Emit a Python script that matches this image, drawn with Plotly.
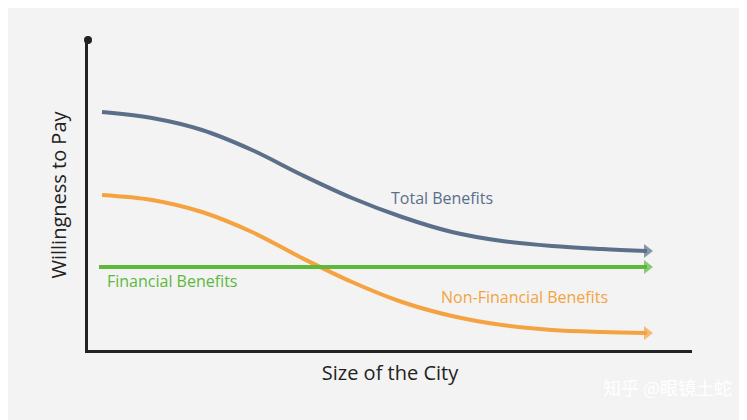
import plotly.graph_objects as go

def px2x(p): return (p-86)/6.04
def py2y(p): return (350-p)/3.1

tot_px = [100,150,200,250,300,350,400,450,500,550,600,645]
tot_py = [112,118,130,150,175,198,217,232,241,246,249,251]
non_py = [195,200,212,232,258,282,302,316,325,330,332,333]
fin_px = [97,645]
fin_py = [267,267]

tx=[px2x(p) for p in tot_px]
fig=go.Figure()
def curve(xs, ys, color):
    n=len(xs)
    fig.add_trace(go.Scatter(x=xs,y=ys,mode="lines+markers",line=dict(color=color,width=4,shape="spline"),
        marker=dict(symbol=["circle"]*(n-1)+["triangle-right"],size=[0]*(n-1)+[12],color=color,line=dict(width=0)),
        cliponaxis=False,showlegend=False,hoverinfo="skip"))
curve(tx,[py2y(p) for p in tot_py],"#5b6f8a")
curve(tx,[py2y(p) for p in non_py],"#f4a340")
curve([px2x(p) for p in fin_px],[py2y(p) for p in fin_py],"#5db83c")
fig.add_trace(go.Scatter(x=[0],y=[py2y(40)],mode="markers",marker=dict(color="#222",size=8),cliponaxis=False,showlegend=False))

ann=[("Total Benefits",440,198,"#5b6f8a"),("Non-Financial Benefits",522,297,"#f4a340"),("Financial Benefits",170,281,"#5db83c")]
for t,x,y,c in ann:
    fig.add_annotation(x=px2x(x),y=py2y(y),text=t,showarrow=False,font=dict(size=16,color=c,family="Open Sans"))
fig.add_annotation(xref="paper",yref="paper",x=1.07,y=-0.07,xanchor="right",yanchor="top",text="知乎 @眼镜土蛇",showarrow=False,
                   font=dict(size=18,color="#ffffff",family="Noto Sans CJK SC"))
fig.update_xaxes(range=[0,100],showline=True,linecolor="#222",linewidth=3,showgrid=False,zeroline=False,showticklabels=False,ticks="",
                 title=dict(text="Size of the City",font=dict(size=20,color="#222",family="Open Sans"),standoff=14))
fig.update_yaxes(range=[0,100],showline=True,linecolor="#222",linewidth=3,showgrid=False,zeroline=False,showticklabels=False,ticks="",
                 title=dict(text="Willingness to Pay",font=dict(size=20,color="#222",family="Open Sans"),standoff=14))
fig.update_layout(width=747,height=420,margin=dict(l=80,r=63,t=32,b=78),plot_bgcolor="#f3f3f3",paper_bgcolor="#f3f3f3")
fig.write_html("out.html")
